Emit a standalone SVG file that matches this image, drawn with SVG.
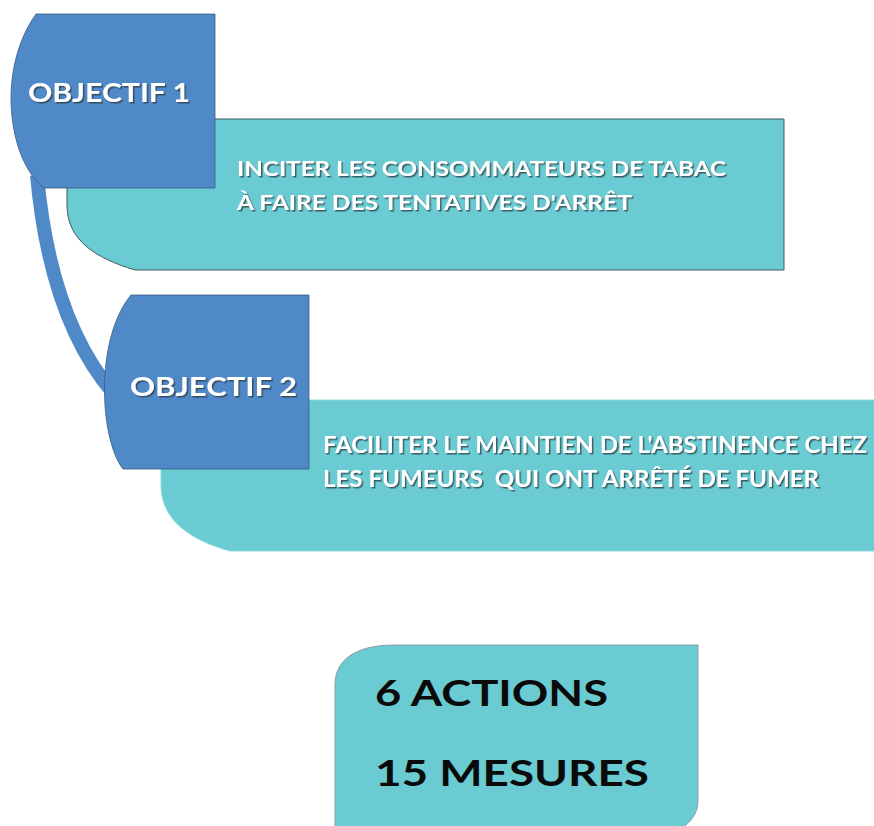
<svg xmlns="http://www.w3.org/2000/svg" width="874" height="826" viewBox="0 0 874 826">
<defs>
<filter id="sh" x="-5%" y="-30%" width="110%" height="160%">
<feDropShadow dx="1.5" dy="1.5" stdDeviation="0.6" flood-color="#2a3a40" flood-opacity="0.75"/>
</filter>
<style>
.blue{fill:#5089C7;stroke:#3b5a80;stroke-width:0.8}
.teal{fill:#6BCBD2;stroke:#3f5a62;stroke-width:1}
.teal2{fill:#6BCBD2;stroke:#8fd8dd;stroke-width:1}
.obj{font-family:Lato,"Open Sans",sans-serif;font-weight:700;font-size:27px;fill:#ffffff;filter:url(#sh)}
.desc{font-family:Lato,"Open Sans",sans-serif;font-weight:700;fill:#ffffff;filter:url(#sh);white-space:pre}
.big{font-family:Lato,"Open Sans",sans-serif;font-weight:700;font-size:36px;fill:#0a0a0a}
</style>
</defs>
<rect width="874" height="826" fill="#ffffff"/>
<g id="connectors">
<path d="M 37 175 Q 50 320 114 394" fill="none" stroke="#5089C7" stroke-width="14"/>
</g>
<g id="desc1">
<path class="teal" d="M 67 119 H 784 V 270 H 135 C 95 258, 67 240, 67 205 Z"/>
<text class="desc" font-size="20" x="237" y="176" textLength="489" lengthAdjust="spacingAndGlyphs">INCITER LES CONSOMMATEURS DE TABAC</text>
<text class="desc" font-size="20" x="237" y="210" textLength="395" lengthAdjust="spacingAndGlyphs">À FAIRE DES TENTATIVES D'ARRÊT</text>
</g>
<g id="obj1">
<path class="blue" d="M 36 14 H 215 V 188 H 44 C 8 160, -4 70, 36 14 Z"/>
<text class="obj" x="28" y="102" textLength="162" lengthAdjust="spacingAndGlyphs">OBJECTIF 1</text>
</g>
<g id="desc2">
<path class="teal2" d="M 161 400 H 880 V 551 H 230 C 190 540, 161 520, 161 485 Z"/>
<text class="desc" font-size="22" x="323" y="453" textLength="544" lengthAdjust="spacingAndGlyphs">FACILITER LE MAINTIEN DE L'ABSTINENCE CHEZ</text>
<text class="desc" font-size="22" x="323" y="487" textLength="496" lengthAdjust="spacingAndGlyphs" xml:space="preserve">LES FUMEURS  QUI ONT ARRÊTÉ DE FUMER</text>
</g>
<g id="obj2">
<path class="blue" d="M 131 295 H 309 V 469 H 123 C 100 440, 94 340, 131 295 Z"/>
<text class="obj" x="130" y="396" textLength="167" lengthAdjust="spacingAndGlyphs">OBJECTIF 2</text>
</g>
<g id="summary">
<path d="M 335 830 V 685 C 335 660, 355 645, 395 645 H 698 V 800 C 698 815, 690 822, 680 830 Z" fill="#6BCBD2" stroke="#8a9ea2" stroke-width="1"/>
<text class="big" x="375" y="706" textLength="233" lengthAdjust="spacingAndGlyphs">6 ACTIONS</text>
<text class="big" x="375" y="786" textLength="274" lengthAdjust="spacingAndGlyphs">15 MESURES</text>
</g>
</svg>
